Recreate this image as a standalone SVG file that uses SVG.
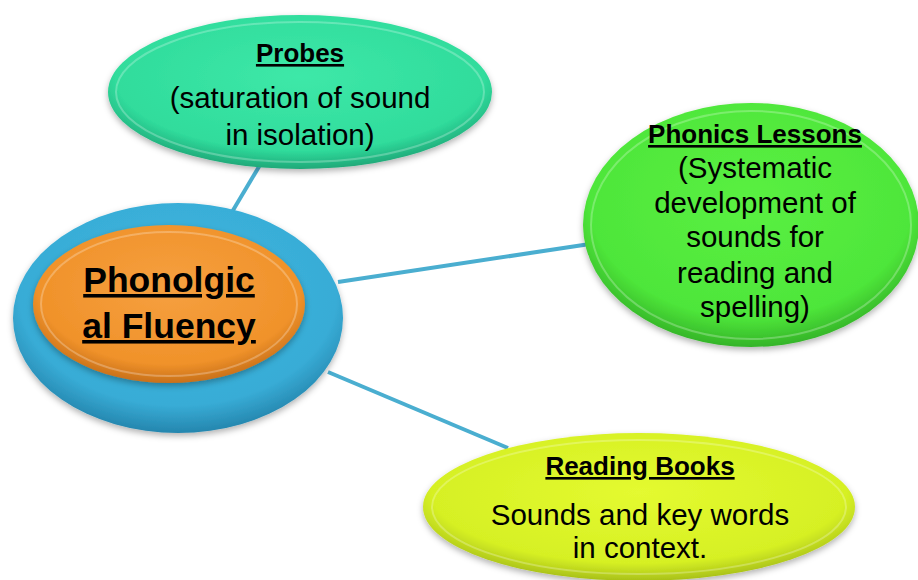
<svg xmlns="http://www.w3.org/2000/svg" width="918" height="580" viewBox="0 0 918 580">
<defs>
<radialGradient id="gTeal" cx="50%" cy="40%" r="60%">
<stop offset="0" stop-color="#3ee8a8"/><stop offset="0.8" stop-color="#30dc9c"/><stop offset="1" stop-color="#1fa878"/>
</radialGradient>
<radialGradient id="gGreen" cx="50%" cy="40%" r="60%">
<stop offset="0" stop-color="#5af042"/><stop offset="0.8" stop-color="#4ee63a"/><stop offset="1" stop-color="#34b428"/>
</radialGradient>
<radialGradient id="gYellow" cx="50%" cy="40%" r="60%">
<stop offset="0" stop-color="#e4fa30"/><stop offset="0.8" stop-color="#d6f024"/><stop offset="1" stop-color="#a8c018"/>
</radialGradient>
<radialGradient id="gBlue" cx="50%" cy="40%" r="60%">
<stop offset="0" stop-color="#3fb8e0"/><stop offset="0.8" stop-color="#38acd6"/><stop offset="1" stop-color="#2586ae"/>
</radialGradient>
<radialGradient id="gOrange" cx="50%" cy="40%" r="60%">
<stop offset="0" stop-color="#f6a040"/><stop offset="0.8" stop-color="#f0922a"/><stop offset="1" stop-color="#c8701a"/>
</radialGradient>
<filter id="sh" x="-10%" y="-10%" width="120%" height="130%">
<feDropShadow dx="0" dy="3" stdDeviation="3" flood-color="#000" flood-opacity="0.3"/>
</filter>
</defs>
<style>
.t{font-family:"Liberation Sans",Arial,sans-serif;fill:#000;text-anchor:middle}
.h{font-weight:bold;font-size:26px;text-decoration:underline}
.b{font-size:29.5px}
.c{font-weight:bold;font-size:35.5px;text-decoration:underline}
.conn{stroke:#4aaed0;stroke-width:4;fill:none}
.rim{fill:none;stroke:#ffffff;stroke-opacity:0.25;stroke-width:2}
</style>
<rect width="918" height="580" fill="#ffffff"/>
<g id="connectors">
<line class="conn" x1="232" y1="212" x2="260" y2="165"/>
<line class="conn" x1="338" y1="282" x2="590" y2="244"/>
<line class="conn" x1="328" y1="372" x2="508" y2="448"/>
</g>
<g id="probes">
<ellipse cx="300" cy="92" rx="192" ry="77" fill="url(#gTeal)" filter="url(#sh)"/>
<ellipse class="rim" cx="300" cy="92" rx="184" ry="70"/>
<text class="t h" x="300" y="62">Probes</text>
<text class="t b" x="300" y="108">(saturation of sound</text>
<text class="t b" x="300" y="145">in isolation)</text>
</g>
<g id="phonics">
<ellipse cx="751" cy="225" rx="168" ry="122" fill="url(#gGreen)" filter="url(#sh)"/>
<ellipse class="rim" cx="751" cy="225" rx="160" ry="114"/>
<text class="t h" x="755" y="143">Phonics Lessons</text>
<text class="t b" x="755" y="178">(Systematic</text>
<text class="t b" x="755" y="213">development of</text>
<text class="t b" x="755" y="247">sounds for</text>
<text class="t b" x="755" y="283">reading and</text>
<text class="t b" x="755" y="317">spelling)</text>
</g>
<g id="reading">
<ellipse cx="639" cy="507" rx="216" ry="74" fill="url(#gYellow)" filter="url(#sh)"/>
<ellipse class="rim" cx="639" cy="507" rx="207" ry="67"/>
<text class="t h" x="640" y="475">Reading Books</text>
<text class="t b" x="640" y="525">Sounds and key words</text>
<text class="t b" x="640" y="558">in context.</text>
</g>
<g id="central">
<ellipse cx="178" cy="318" rx="165" ry="115" fill="url(#gBlue)" filter="url(#sh)"/>
<ellipse cx="169" cy="304" rx="136" ry="79" fill="url(#gOrange)" filter="url(#sh)"/>
<ellipse class="rim" cx="169" cy="304" rx="128" ry="72"/>
<text class="t c" x="169" y="292">Phonolgic</text>
<text class="t c" x="169" y="338">al Fluency</text>
</g>
</svg>
